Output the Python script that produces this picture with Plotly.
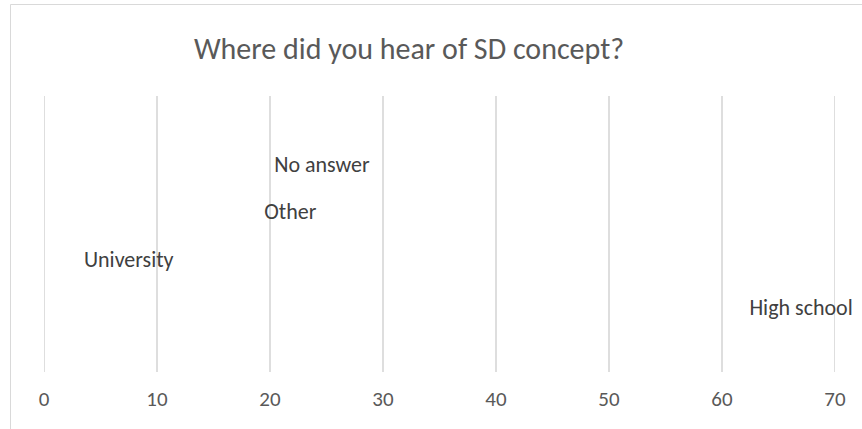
import plotly.graph_objects as go

# Survey answers: where respondents first heard of the SD concept
categories = ["High school", "University", "Other", "No answer"]
values = [67, 7.5, 21.8, 24.6]
x_ticks = [0, 10, 20, 30, 40, 50, 60, 70]

W, H = 862, 429
L, R, T, B = 44, 27, 96, 57
pw, ph = W - L - R, H - T - B

def px_x(p):
    return (p - L) / pw

def px_y(p):
    return (H - B - p) / ph

FONT = "Carlito, Calibri, Lato, sans-serif"
GREY = "#595959"
GRID = "#d9d9d9"

fig = go.Figure()
fig.add_trace(go.Scatter(
    x=values,
    y=list(range(len(categories))),
    mode="text",
    text=categories,
    textposition="middle center",
    textfont=dict(family=FONT, size=22, color="#404040"),
    cliponaxis=False,
    hoverinfo="skip",
    showlegend=False,
))

# vertical value gridlines, one per tick (including both ends of the axis)
for v in x_ticks:
    fig.add_shape(type="line", xref="x", yref="paper", x0=v, x1=v, y0=0, y1=1,
                  line=dict(color=GRID, width=1.7), layer="below")

# chart area outline (runs past the right and bottom edges)
fig.add_shape(type="rect", xref="paper", yref="paper",
              x0=px_x(10.5), x1=px_x(875), y0=px_y(445), y1=px_y(4.5),
              line=dict(color=GRID, width=1), fillcolor="rgba(0,0,0,0)", layer="below")

fig.update_layout(
    width=W, height=H,
    margin=dict(l=L, r=R, t=T, b=B),
    paper_bgcolor="white", plot_bgcolor="white",
    title=dict(text="Where did you hear of SD concept?",
               x=px_x(409), xref="paper", xanchor="center",
               y=1 - 48 / H, yanchor="middle",
               font=dict(family=FONT, size=30, color=GREY)),
    xaxis=dict(range=[0, 70], tickvals=x_ticks, showgrid=False,
               zeroline=False, showline=False, ticks="",
               tickfont=dict(family=FONT, size=21, color=GREY), ticklabelstandoff=12),
    yaxis=dict(range=[-1.32, 4.47], showgrid=False, zeroline=False, showticklabels=False,
               showline=False, ticks=""),
)

fig.write_html("out.html")
